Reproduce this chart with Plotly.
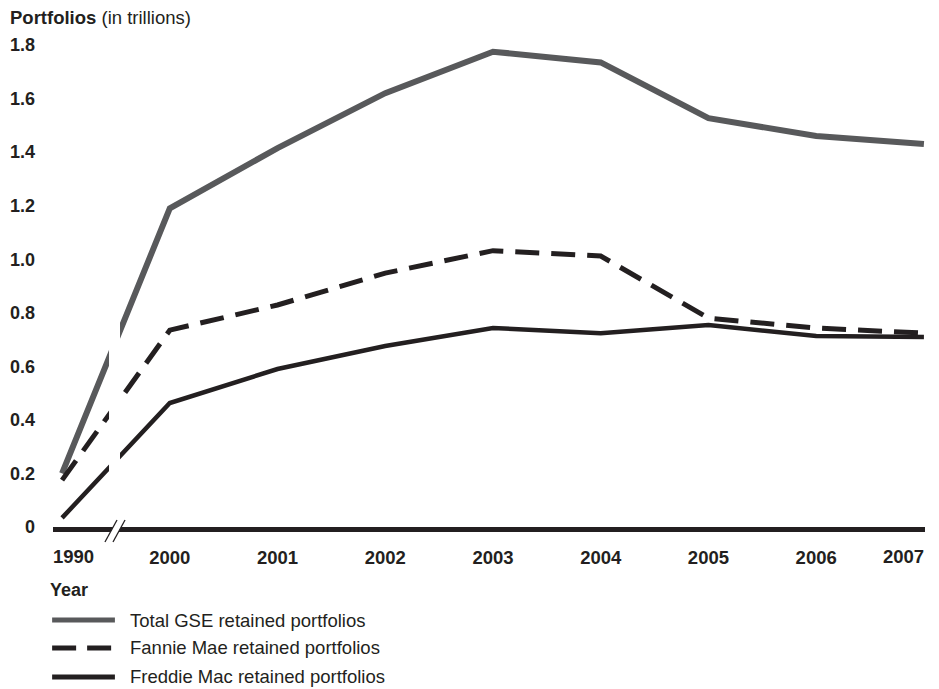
import plotly.graph_objects as go

years = ["1990", "2000", "2001", "2002", "2003", "2004", "2005", "2006", "2007"]
total_gse = [0.20, 1.19, 1.415, 1.62, 1.775, 1.735, 1.527, 1.46, 1.43]
fannie_mae = [0.175, 0.735, 0.829, 0.948, 1.032, 1.012, 0.78, 0.743, 0.724]
freddie_mac = [0.034, 0.463, 0.59, 0.676, 0.743, 0.724, 0.754, 0.713, 0.71]
y_ticks = [0, 0.2, 0.4, 0.6, 0.8, 1.0, 1.2, 1.4, 1.6, 1.8]
y_tick_text = ["0", "0.2", "0.4", "0.6", "0.8", "1.0", "1.2", "1.4", "1.6", "1.8"]

names = ["Total GSE retained portfolios", "Fannie Mae retained portfolios",
         "Freddie Mac retained portfolios"]
values = [total_gse, fannie_mae, freddie_mac]
styles = [
    dict(color="#58595b", width=6, dash="solid"),
    dict(color="#231f20", width=5, dash="24px,12px"),
    dict(color="#231f20", width=4.5, dash="solid"),
]
legend_styles = [
    dict(color="#58595b", width=5, dash="solid"),
    dict(color="#231f20", width=5, dash="24px,11px"),
    dict(color="#231f20", width=5, dash="solid"),
]

FONT = "Liberation Sans, Arial, sans-serif"
TXT = "#231f20"
xidx = list(range(len(years)))

# the first and last year labels are inset to the axis ends (drawn as annotations)
tick_text = [""] + years[1:-1] + [""]

fig = go.Figure()
for name, vals, st in zip(names, values, styles):
    fig.add_trace(go.Scatter(x=xidx, y=vals, mode="lines", name=name,
                             line=dict(color=st["color"], width=st["width"], dash=st["dash"]),
                             showlegend=False, hoverinfo="skip"))

shapes = []
# white band that breaks the lines between 1990 and 2000
shapes.append(dict(type="rect", xref="x", yref="y", x0=0.436, x1=0.538, y0=0.03, y1=1.8,
                   fillcolor="white", line=dict(width=0), layer="above"))
# axis break "//"
shapes.append(dict(type="path", xref="paper", yref="paper",
                   path="M 0.0596,-0.031 L 0.0734,0.0145 L 0.0826,0.0145 L 0.0688,-0.031 Z",
                   fillcolor="white", line=dict(width=0), layer="above"))
for x0, x1 in [(0.0596, 0.0734), (0.0688, 0.0826)]:
    shapes.append(dict(type="line", xref="paper", yref="paper", x0=x0, y0=-0.031, x1=x1, y1=0.0145,
                       line=dict(color=TXT, width=1.3), layer="above"))

annotations = []
tick_font = dict(family=FONT, size=18.5, color=TXT, weight="bold")
annotations.append(dict(text=years[0], xref="x", yref="paper", x=xidx[0], y=-0.061,
                        xanchor="left", yanchor="middle", xshift=-11, showarrow=False,
                        font=tick_font))
annotations.append(dict(text=years[-1], xref="x", yref="paper", x=xidx[-1], y=-0.061,
                        xanchor="right", yanchor="middle", xshift=2, showarrow=False,
                        font=tick_font))

# legend
legend_y = [-0.193, -0.251, -0.311]
for name, st, ly in zip(names, legend_styles, legend_y):
    shapes.append(dict(type="line", xref="paper", yref="paper", x0=-0.001, x1=0.071, y0=ly, y1=ly,
                       line=dict(color=st["color"], width=st["width"], dash=st["dash"])))
    annotations.append(dict(text=name, xref="paper", yref="paper", x=0.0860, y=ly,
                            xanchor="left", yanchor="middle", showarrow=False,
                            font=dict(family=FONT, size=18.5, color=TXT)))

annotations.append(dict(text="<b>Portfolios</b> (in trillions)", xref="paper", yref="paper",
                        x=-0.0516, y=1.058, xanchor="left", yanchor="middle", showarrow=False,
                        font=dict(family=FONT, size=18.5, color=TXT)))
annotations.append(dict(text="<b>Year</b>", xref="paper", yref="paper",
                        x=-0.0056, y=-0.1307, xanchor="left", yanchor="middle", showarrow=False,
                        font=dict(family=FONT, size=18, color=TXT)))

fig.update_layout(
    width=939, height=689,
    margin=dict(l=53, r=14, t=45, b=162),
    paper_bgcolor="white", plot_bgcolor="white",
    showlegend=False,
    xaxis=dict(range=[-0.084, 8.01], tickmode="array", tickvals=xidx, ticktext=tick_text,
               showgrid=False, zeroline=False, showline=True, linecolor=TXT, linewidth=5,
               ticks="", ticklabelstandoff=10, automargin=False,
               tickfont=tick_font),
    yaxis=dict(range=[0, 1.8], tickmode="array", tickvals=y_ticks, ticktext=y_tick_text,
               showgrid=False, zeroline=False, showline=False, ticks="", automargin=False,
               ticklabelstandoff=17,
               tickfont=dict(family=FONT, size=18, color=TXT, weight="bold")),
    shapes=shapes, annotations=annotations,
)

fig.write_html("out.html", config={"displayModeBar": False},
               post_script="document.body.style.margin='0';document.body.style.overflow='hidden';")
